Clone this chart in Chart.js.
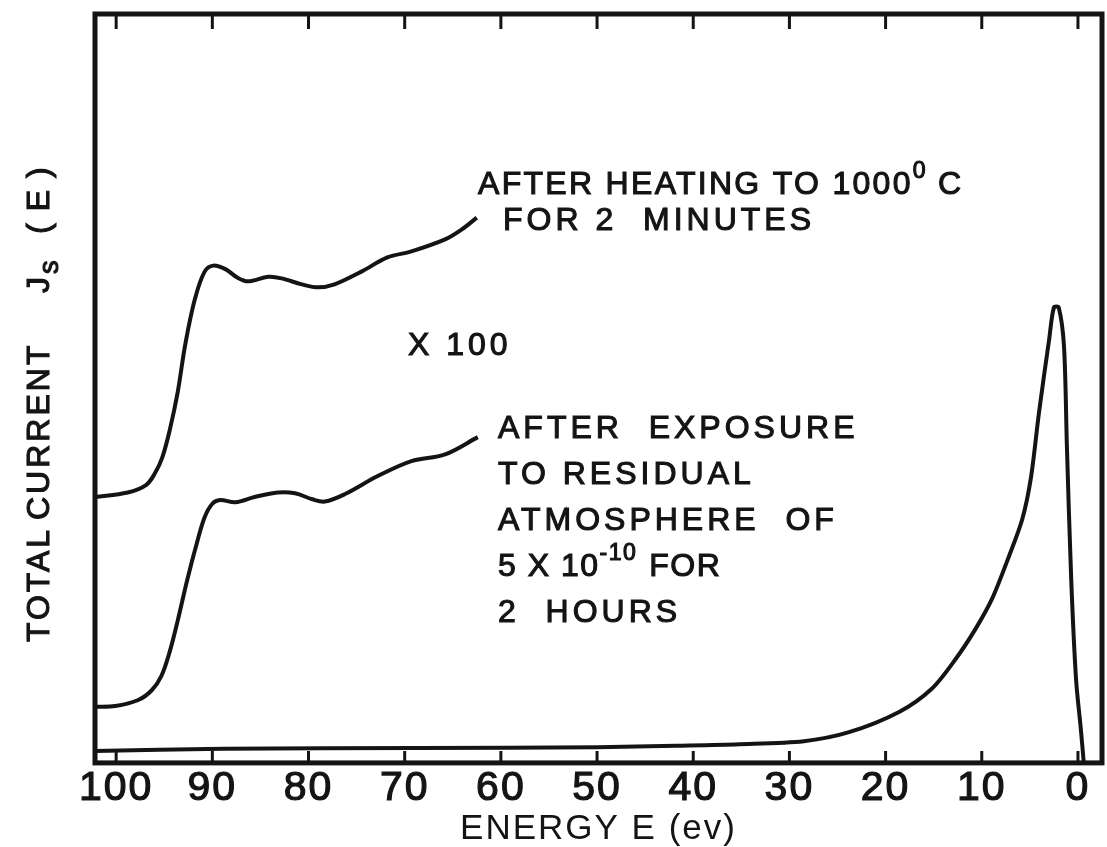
<!DOCTYPE html>
<html>
<head>
  <meta charset="UTF-8">
  <title>Total current J_s(E)</title>
  <script src="https://cdn.jsdelivr.net/npm/chart.js"></script>
  <style>
    html, body { margin: 0; padding: 0; background: #fff; }
    #wrap { width: 1107px; height: 847px; position: relative; }
  </style>
</head>
<body>
  <div id="wrap"><canvas id="grafico"></canvas></div>

  <script>
    // energia (eV) e corrente (unid. arbitrárias)
    const tickValues = [0, 10, 20, 30, 40, 50, 60, 70, 80, 90, 100];

    // após aquecimento a 1000 C por 2 minutos (x100)
    const energyHeated  = [102.2, 98.8, 96.9, 96.0, 95.2, 94.4, 93.6, 92.8, 91.8, 90.8, 89.9, 88.6, 87.4, 86.3, 84.2, 82.8, 80.7, 79.0, 77.3, 74.5, 71.8, 69.3, 65.8, 64.1, 62.5];
    const currentHeated = [35.5, 36.1, 37.1, 38.6, 40.8, 44.6, 49.5, 56.0, 62.0, 65.6, 66.4, 65.9, 64.8, 64.3, 64.9, 64.7, 63.9, 63.5, 63.9, 65.6, 67.5, 68.3, 69.9, 71.2, 72.8];

    // após exposição à atmosfera residual (x100)
    const energyExposed  = [102.2, 100.1, 97.7, 96.3, 95.3, 94.4, 93.6, 92.6, 91.6, 90.8, 90.0, 89.2, 87.6, 85.6, 83.2, 81.4, 79.6, 78.3, 76.2, 72.8, 69.3, 65.8, 62.4];
    const currentExposed = [7.5, 7.6, 8.4, 9.7, 11.6, 15.0, 19.0, 24.5, 29.4, 32.8, 34.6, 35.1, 34.8, 35.5, 36.1, 36.0, 35.2, 34.9, 35.9, 38.3, 40.3, 41.2, 43.5];

    // espectro completo (x1)
    const energyFull  = [102.2, 88.8, 68.6, 50.0, 41.8, 35.2, 28.5, 23.8, 18.6, 15.2, 12.7, 10.6, 8.9, 7.2, 5.8, 4.9, 4.05, 3.0, 2.5, 2.0, 1.45, 1.15, 0.7, 0.2, -0.3, -0.6];
    const currentFull = [1.6, 1.9, 2.0, 2.1, 2.3, 2.5, 2.9, 4.1, 6.8, 9.9, 13.9, 18.0, 22.0, 27.5, 32.5, 38.0, 46.8, 56.5, 60.8, 60.8, 55.6, 42.3, 24.5, 11.2, 4.5, 0.1];

    const INK = '#141414';
    const FONTE = '"Liberation Sans", Arial, sans-serif';

    function pontos(xs, ys) {
      return xs.map((x, i) => ({ x: x, y: ys[i] }));
    }

    function serie(xs, ys, tension) {
      return {
        data: pontos(xs, ys),
        borderColor: INK,
        borderWidth: 4,
        pointRadius: 0,
        fill: false,
        tension: tension
      };
    }

    // escreve partes de texto em sequência, com expoentes e índices
    function escrever(ctx, x, y, partes, tam) {
      let cx = x;
      partes.forEach(p => {
        const t = typeof p === 'string' ? { t: p } : p;
        const sz = t.sup ? tam * 0.72 : (t.sub ? tam * 0.85 : tam);
        ctx.font = sz + 'px ' + FONTE;
        const dy = t.sup ? -tam * 0.42 : (t.sub ? tam * 0.34 : 0);
        ctx.fillText(t.t, cx, y + dy);
        ctx.strokeText(t.t, cx, y + dy);
        cx += ctx.measureText(t.t).width + (t.gap || 0);
      });
    }

    const fundo = {
      id: 'fundo',
      beforeDraw(chart) {
        const c = chart.ctx;
        c.save();
        c.fillStyle = '#fff';
        c.fillRect(0, 0, chart.width, chart.height);
        c.restore();
        c.letterSpacing = '2px';
      }
    };

    const moldura = {
      id: 'moldura',
      afterDatasetsDraw(chart) {
        const c = chart.ctx;
        const a = chart.chartArea;
        const sx = chart.scales.x;
        c.save();
        c.strokeStyle = INK;
        c.lineWidth = 3;
        c.beginPath();
        tickValues.forEach(v => {
          const px = sx.getPixelForValue(v);
          c.moveTo(px, a.top);
          c.lineTo(px, a.top + 15);
          c.moveTo(px, a.bottom);
          c.lineTo(px, a.bottom - 12);
        });
        c.stroke();
        c.lineWidth = 5;
        c.strokeRect(a.left, a.top, a.right - a.left, a.bottom - a.top);
        c.restore();
      }
    };

    const textos = {
      id: 'textos',
      afterDraw(chart) {
        const c = chart.ctx;
        c.save();
        c.fillStyle = INK;
        c.strokeStyle = INK;
        c.lineWidth = 1.1;
        c.textBaseline = 'middle';
        c.textAlign = 'left';

        c.letterSpacing = '2.3px';
        escrever(c, 478, 185, ['AFTER HEATING TO 1000', { t: '0', sup: true, gap: 10 }, 'C'], 32);
        c.letterSpacing = '4px';
        escrever(c, 503, 221, ['FOR 2  MINUTES'], 32);

        escrever(c, 408, 346, ['X 100'], 32);

        escrever(c, 498, 429, ['AFTER  EXPOSURE'], 32);
        escrever(c, 498, 475, ['TO RESIDUAL'], 32);
        escrever(c, 498, 521, ['ATMOSPHERE  OF'], 32);
        c.letterSpacing = '1.5px';
        escrever(c, 498, 567, ['5 X 10', { t: '-10', sup: true, gap: 12 }, 'FOR'], 32);
        c.letterSpacing = '4px';
        escrever(c, 498, 613, ['2  HOURS'], 32);

        // título do eixo vertical
        c.letterSpacing = '3px';
        c.translate(40, 0);
        c.rotate(-Math.PI / 2);
        escrever(c, -642, 0, ['TOTAL'], 32);
        escrever(c, -520, 0, ['CURRENT'], 32);
        escrever(c, -293, 0, ['J', { t: 's', sub: true }], 32);
        c.letterSpacing = '12px';
        escrever(c, -234, 0, ['(E)'], 32);
        c.restore();
      }
    };

    let ctx = document.getElementById('grafico').getContext('2d');
    let chart = new Chart(ctx, {
      type: 'line',
      data: {
        datasets: [
          serie(energyHeated, currentHeated, 0.35),
          serie(energyExposed, currentExposed, 0.35),
          serie(energyFull, currentFull, 0.3)
        ]
      },
      options: {
        animation: false,
        responsive: true,
        maintainAspectRatio: false,
        layout: { padding: { left: 95, top: 14, right: 5, bottom: 3 } },
        plugins: {
          legend: { display: false },
          tooltip: { enabled: false }
        },
        scales: {
          x: {
            type: 'linear',
            reverse: true,
            min: -2.5,
            max: 102.2,
            afterBuildTicks(scale) {
              scale.ticks = tickValues.map(v => ({ value: v }));
            },
            grid: { display: false, drawTicks: false },
            border: { display: false },
            ticks: {
              autoSkip: false,
              maxRotation: 0,
              padding: 5,
              color: INK,
              textStrokeColor: INK,
              textStrokeWidth: 1.2,
              font: { family: FONTE, size: 41, lineHeight: 1 }
            },
            title: {
              display: true,
              text: 'ENERGY E (ev)',
              color: INK,
              font: { family: FONTE, size: 35, lineHeight: 0.86 },
              padding: { top: 0, bottom: 0 }
            }
          },
          y: {
            type: 'linear',
            min: 0,
            max: 100,
            display: false
          }
        }
      },
      plugins: [fundo, moldura, textos]
    });
  </script>
</body>
</html>
